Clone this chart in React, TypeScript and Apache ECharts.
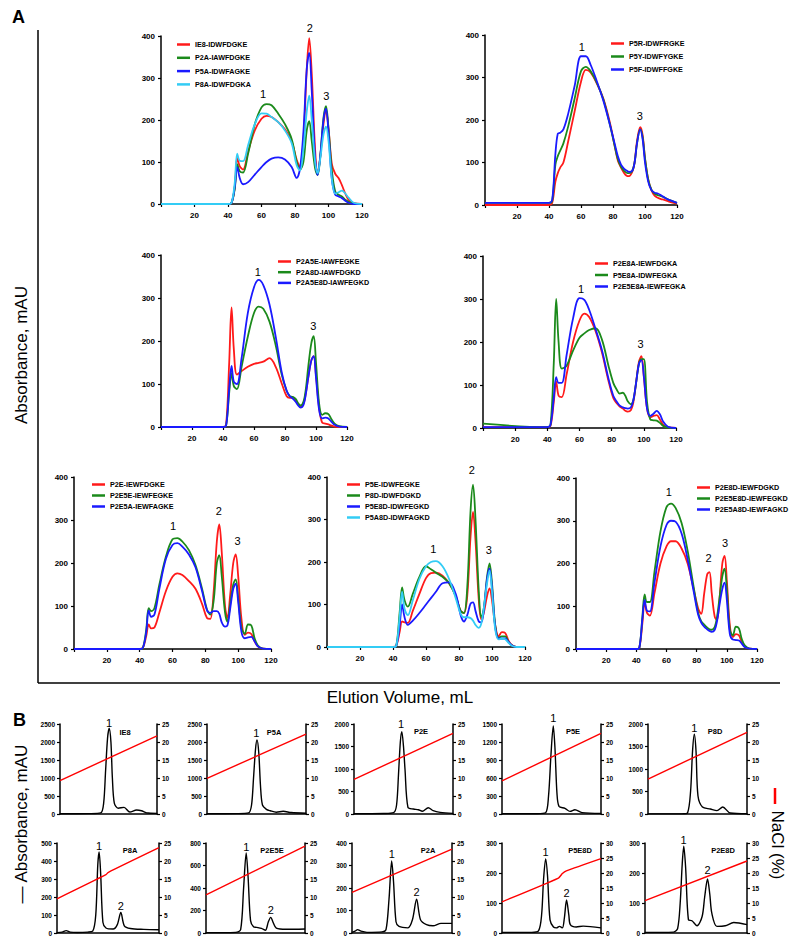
import React, { useEffect, useRef } from "react";
import * as echarts from "echarts";

const FONT = "'Liberation Sans', Arial, Helvetica, sans-serif";
const RED = "#ff1a1a";
const GREEN = "#1b8a1b";
const BLUE = "#1a1aff";
const CYAN = "#33ccf5";

// ---------- Panel A: elution volume (mL), shared sampling grid ----------
const volA = [0, 40, 42, 44, 45.5, 47, 49, 52, 56, 60, 63, 66, 70, 74, 78, 81, 83, 85, 87, 88.5, 90, 92, 93.5, 95, 97, 98.5, 100, 102, 104, 106, 108, 110, 112, 115, 120];

// A1
const ie8 = [0,0,2,40,110,90,82,125,175,203,210,207,195,178,150,105,88,150,320,395,310,130,73,110,190,221,180,95,72,62,45,25,10,2,0];
const p2a = [0,0,2,35,95,78,75,120,190,230,238,235,215,190,155,100,82,100,175,197,150,85,69,110,205,233,180,80,30,22,18,10,5,1,0];
const p5a = [0,0,2,40,88,62,47,52,70,88,100,108,111,106,88,62,85,170,320,360,270,110,69,110,200,227,170,60,22,18,14,8,3,0,0];
const p8a = [0,0,2,50,120,103,102,140,190,216,215,207,195,175,145,92,80,130,220,258,200,100,73,105,165,184,150,60,25,28,32,25,15,3,0];
// A2
const p5r = [0,0,5,55,75,88,100,150,220,290,318,312,285,250,195,140,105,88,75,69,68,78,100,150,183,165,110,60,35,22,17,14,12,8,3];
const p5y = [5,5,10,95,115,128,145,185,250,315,325,315,287,248,190,140,108,90,80,76,75,80,100,145,178,160,110,60,36,27,23,21,18,12,5];
const p5f = [5,5,12,120,168,170,178,215,280,350,350,330,290,245,190,145,115,95,85,81,78,80,100,145,178,155,100,55,35,29,27,23,18,12,5];
// A3
const p2a5e = [0,0,5,150,278,180,122,130,140,147,149,152,160,140,100,72,68,68,60,53,48,55,80,115,155,165,120,45,10,8,6,3,1,0,0];
const p2a8d = [0,0,3,80,125,95,88,140,210,265,280,275,245,190,120,85,72,70,65,55,50,60,90,140,195,211,150,55,28,32,30,18,8,2,0];
const p2a5e8d = [0,0,3,90,142,105,100,160,265,325,342,330,285,210,125,85,72,66,58,50,45,52,78,115,155,165,115,40,20,22,20,12,5,1,0];
// A4
const p2e8a = [2,2,5,60,108,75,72,125,200,250,266,258,225,175,110,70,58,50,45,40,38,42,60,100,155,167,120,45,25,28,30,20,8,2,0];
const p5e8a = [10,2,8,150,300,200,138,145,180,210,220,228,232,205,145,105,90,80,82,75,62,55,65,100,150,160,160,60,20,18,17,12,5,1,0];
const p2e5e8a = [2,2,8,70,118,105,105,170,255,302,298,275,230,180,115,75,62,52,48,46,45,48,65,100,150,158,120,45,28,33,40,32,15,3,0];
// A5
const p2e = [0,0,3,30,57,48,50,85,135,168,176,172,158,140,105,72,70,130,250,290,225,100,72,120,200,220,170,70,33,38,35,18,6,1,0];
const p2e5e = [0,0,3,45,95,88,95,150,215,255,258,250,230,195,140,92,80,110,200,218,170,85,63,100,150,162,120,50,35,57,55,25,8,1,0];
const p2e5a = [0,0,3,40,90,75,80,140,210,242,246,238,220,190,135,90,84,88,88,82,62,52,55,90,140,152,110,40,25,27,28,18,6,1,0];
// A6
const p5e = [0,0,3,35,60,58,57,85,125,162,174,175,168,150,120,85,80,120,260,318,250,110,65,80,120,138,110,50,25,35,33,15,5,0,0];
const p8d = [0,0,3,80,140,110,95,125,165,190,183,175,165,150,120,85,80,140,320,382,300,130,70,90,165,197,150,50,22,25,25,12,4,0,0];
const p5e8d = [0,0,3,50,100,70,52,62,80,100,115,130,150,152,125,75,60,75,102,105,85,60,58,85,160,185,140,45,20,20,20,12,4,0,0];
const p5a8d = [0,0,3,70,130,90,75,110,160,190,200,202,190,160,115,78,70,70,68,62,52,45,55,90,150,180,130,40,18,20,18,10,3,0,0];
// A7
const p2e8d = [0,0,3,60,110,85,78,130,200,240,252,252,235,200,140,95,82,130,175,180,130,75,68,110,200,218,160,55,28,35,32,15,5,1,0];
const p2e5e8d = [0,0,3,75,128,110,110,180,275,332,340,330,295,230,145,85,65,57,50,46,45,52,75,115,170,188,140,45,32,52,48,22,8,1,0];
const p2e5a8d = [0,0,3,70,115,90,88,155,240,290,300,298,270,210,135,80,62,52,46,42,40,45,65,100,140,155,115,35,22,21,20,12,4,1,0];

// peak labels [volume, mAU, text]
const peaksA1 = [[61, 262, "1"], [88.8, 418, "2"], [98.7, 257, "3"]];
const peaksA2 = [[60.5, 372, "1"], [96.8, 210, "3"]];
const peaksA3 = [[62.5, 360, "1"], [98.3, 235, "3"]];
const peaksA4 = [[61, 324, "1"], [97.9, 195, "3"]];
const peaksA5 = [[60.4, 286, "1"], [88.2, 321, "2"], [99.7, 251, "3"]];
const peaksA6 = [[64.4, 230, "1"], [87.7, 416, "2"], [98, 228, "3"]];
const peaksA7 = [[61.5, 368, "1"], [87.9, 212, "2"], [98.9, 248, "3"]];

const panelsA = [
  { lines: [["IE8-IDWFDGKE", ie8, RED], ["P2A-IAWFDGKE", p2a, GREEN], ["P5A-IDWFAGKE", p5a, BLUE], ["P8A-IDWFDGKA", p8a, CYAN]], peaks: peaksA1 },
  { lines: [["P5R-IDWFRGKE", p5r, RED], ["P5Y-IDWFYGKE", p5y, GREEN], ["P5F-IDWFFGKE", p5f, BLUE]], peaks: peaksA2 },
  { lines: [["P2A5E-IAWFEGKE", p2a5e, RED], ["P2A8D-IAWFDGKD", p2a8d, GREEN], ["P2A5E8D-IAWFEGKD", p2a5e8d, BLUE]], peaks: peaksA3 },
  { lines: [["P2E8A-IEWFDGKA", p2e8a, RED], ["P5E8A-IDWFEGKA", p5e8a, GREEN], ["P2E5E8A-IEWFEGKA", p2e5e8a, BLUE]], peaks: peaksA4 },
  { lines: [["P2E-IEWFDGKE", p2e, RED], ["P2E5E-IEWFEGKE", p2e5e, GREEN], ["P2E5A-IEWFAGKE", p2e5a, BLUE]], peaks: peaksA5 },
  { lines: [["P5E-IDWFEGKE", p5e, RED], ["P8D-IDWFDGKD", p8d, GREEN], ["P5E8D-IDWFEGKD", p5e8d, BLUE], ["P5A8D-IDWFAGKD", p5a8d, CYAN]], peaks: peaksA6 },
  { lines: [["P2E8D-IEWFDGKD", p2e8d, RED], ["P2E5E8D-IEWFEGKD", p2e5e8d, GREEN], ["P2E5A8D-IEWFAGKD", p2e5a8d, BLUE]], peaks: peaksA7 },
];

const layoutA = [
  { left: 161, top: 36, width: 201, height: 168, lgLeft: 177, lgTop: 40, lgGap: 4.3 },
  { left: 485, top: 35, width: 192, height: 170, lgLeft: 611, lgTop: 39, lgGap: 4 },
  { left: 161, top: 255, width: 186, height: 172, lgLeft: 278, lgTop: 257, lgGap: 1.7 },
  { left: 483, top: 256, width: 193, height: 172, lgLeft: 595, lgTop: 259, lgGap: 2.5 },
  { left: 74, top: 477, width: 197, height: 172, lgLeft: 92, lgTop: 480, lgGap: 2 },
  { left: 327, top: 477, width: 198, height: 170, lgLeft: 347, lgTop: 480, lgGap: 2 },
  { left: 576, top: 478, width: 181, height: 171, lgLeft: 697, lgTop: 483, lgGap: 2 },
];

// ---------- Panel B: ion-exchange runs (x = % of run) ----------
const namesB = ["IE8", "P5A", "P2E", "P5E", "P8D", "P8A", "P2E5E", "P2A", "P5E8D", "P2E8D"];
const absMaxB = [2500, 2500, 2000, 1500, 2000, 500, 800, 400, 300, 300];
const absStepB = [500, 500, 500, 300, 500, 100, 200, 100, 100, 100];
const naclMaxB = [25, 25, 25, 25, 25, 25, 25, 25, 30, 30];

const ie8X = [0, 30, 42, 45, 47, 49, 50.7, 52.5, 54, 56, 60, 66, 72, 79, 84, 89, 100];
const ie8Abs = [5, 10, 30, 300, 1200, 2100, 2380, 2000, 1000, 300, 160, 185, 55, 110, 90, 35, 18];
const p5aX = [0, 30, 42, 45, 47, 49, 50.5, 52.3, 54, 56, 60, 64, 70, 77, 85, 100];
const p5aAbs = [5, 10, 30, 250, 1000, 1800, 2055, 1700, 800, 250, 130, 90, 50, 75, 40, 20];
const p2eX = [0, 30, 40, 43, 45, 46.8, 48.3, 50, 51.5, 54.5, 60, 65, 69, 75, 80, 87, 100];
const p2eAbs = [5, 10, 30, 200, 900, 1600, 1830, 1500, 1000, 146, 110, 95, 60, 140, 73, 37, 15];
const p5eX = [0, 35, 44, 47, 49.5, 51.8, 53.5, 55.5, 57.6, 63.6, 68.7, 73.7, 80.8, 100];
const p5eAbs = [3, 5, 20, 300, 1000, 1467, 1100, 350, 127, 94, 44, 72, 22, 10];
const p8dX = [0, 35, 40, 43, 45, 46.8, 48.5, 50.5, 55, 63, 69.7, 75.5, 83, 100];
const p8dAbs = [3, 5, 30, 500, 1400, 1771, 1400, 400, 155, 110, 74, 155, 22, 5];
const p8aX = [0, 5, 9, 13, 20, 30, 35, 38, 40, 41.3, 42.8, 45, 48, 55, 59, 62.6, 66, 72, 85, 100];
const p8aAbs = [2, 5, 13, 5, 3, 5, 10, 100, 380, 450, 330, 60, 28, 22, 45, 114, 40, 25, 20, 18];
const p2e5eX = [0, 30, 35, 38, 40.6, 42.5, 45, 48, 51, 56, 60, 63, 65.4, 68, 71, 81, 100];
const p2e5eAbs = [3, 6, 30, 400, 711, 500, 110, 55, 50, 41, 24, 100, 139, 90, 44, 33, 36];
const p2aX = [0, 3, 5.6, 9, 15, 30, 34, 37, 39.7, 41.5, 44, 47, 56, 60.5, 64.6, 68.5, 74.5, 81, 89, 100];
const p2aAbs = [3, 8, 15, 8, 3, 5, 15, 150, 320, 230, 50, 29, 23, 60, 150, 59, 37, 32, 43, 43];
const p5e8dX = [0, 30, 37, 40, 42, 44.1, 46, 48.5, 52, 55, 58, 61, 63, 65.2, 67.5, 69, 75, 82, 100];
const p5e8dAbs = [2, 2, 8, 60, 180, 247, 190, 44, 20, 17, 22, 17, 50, 110, 60, 28, 20, 23, 17];
const p2e8dX = [0, 28, 32, 34.5, 36.5, 38, 39.8, 42.6, 46, 51, 56, 58.5, 61.3, 63.5, 65.5, 70.5, 78.7, 87, 100];
const p2e8dAbs = [2, 3, 15, 100, 230, 289, 220, 44, 41, 24, 55, 120, 180, 130, 66, 22, 24, 35, 28];

// NaCl gradient (%)
const naclLinX = [0, 100];
const ie8Nacl = [9.3, 21.7];
const p5aNacl = [9.9, 22.2];
const p2eNacl = [9.6, 22.4];
const p5eNacl = [9.2, 22.4];
const p8dNacl = [9.7, 22.7];
const p8aNaclX = [0, 48, 50, 100];
const p8aNacl = [9.5, 16.2, 16.8, 23.7];
const p2e5eNacl = [10.6, 24.1];
const p2aNacl = [11.3, 23.3];
const p5e8dNaclX = [0, 57, 61, 65, 100];
const p5e8dNacl = [10.4, 18.3, 19.8, 20.7, 24.8];
const p2e8dNacl = [10.8, 24.0];

const peaksB = [
  [[50.7, 2540, "1"]],
  [[49.8, 2260, "1"]],
  [[47.5, 2010, "1"]],
  [[51.8, 1594, "1"]],
  [[46.8, 1904, "1"]],
  [[41.3, 483, "1"], [62.6, 151, "2"]],
  [[40.6, 764, "1"], [65.4, 207, "2"]],
  [[39.7, 353, "1"], [64.6, 184, "2"]],
  [[44.1, 270, "1"], [65.2, 132, "2"]],
  [[37.7, 309, "1"], [61.3, 210, "2"]],
];

const absB = [
  [ie8X, ie8Abs], [p5aX, p5aAbs], [p2eX, p2eAbs], [p5eX, p5eAbs], [p8dX, p8dAbs],
  [p8aX, p8aAbs], [p2e5eX, p2e5eAbs], [p2aX, p2aAbs], [p5e8dX, p5e8dAbs], [p2e8dX, p2e8dAbs],
];
const naclB = [
  [naclLinX, ie8Nacl], [naclLinX, p5aNacl], [naclLinX, p2eNacl], [naclLinX, p5eNacl], [naclLinX, p8dNacl],
  [p8aNaclX, p8aNacl], [naclLinX, p2e5eNacl], [naclLinX, p2aNacl], [p5e8dNaclX, p5e8dNacl], [naclLinX, p2e8dNacl],
];

const layoutB = [
  { left: 60, top: 724, width: 97, tx: 125, ty: 732 },
  { left: 207, top: 724, width: 99, tx: 274, ty: 732 },
  { left: 354, top: 724, width: 99, tx: 421, ty: 731 },
  { left: 502, top: 724, width: 99, tx: 573, ty: 731 },
  { left: 648, top: 724, width: 99, tx: 715, ty: 731 },
  { left: 57, top: 843, width: 102, tx: 130, ty: 850 },
  { left: 206, top: 843, width: 99, tx: 272, ty: 850 },
  { left: 352, top: 843, width: 100, tx: 428, ty: 850 },
  { left: 502, top: 843, width: 99, tx: 580, ty: 850 },
  { left: 645, top: 843, width: 102, tx: 723, ty: 850 },
];
const heightB = 90;

function buildOption() {
  const grid: any[] = [];
  const xAxis: any[] = [];
  const yAxis: any[] = [];
  const series: any[] = [];
  const legend: any[] = [];
  const graphic: any[] = [];
  const peakJobs: any[] = [];

  const axLine = { show: true, lineStyle: { color: "#000", width: 1.5 } };
  const tick = (len: number) => ({ show: true, length: len, lineStyle: { color: "#000", width: 1.2 } });
  const plain = (v: number) => String(v);

  panelsA.forEach((p, i) => {
    const L = layoutA[i];
    grid.push({ left: L.left, top: L.top, width: L.width, height: L.height, outerBoundsMode: "none" });
    const gi = grid.length - 1;
    xAxis.push({
      gridIndex: gi,
      type: "value",
      min: 0,
      max: 120,
      interval: 20,
      axisLine: axLine,
      axisTick: tick(3),
      splitLine: { show: false },
      axisLabel: {
        formatter: (v: number) => (v === 0 ? "" : String(v)),
        fontSize: 8,
        fontWeight: "bold",
        fontFamily: FONT,
        color: "#000",
        margin: 7,
      },
    });
    yAxis.push({
      gridIndex: gi,
      type: "value",
      min: 0,
      max: 400,
      interval: 100,
      axisLine: axLine,
      axisTick: tick(3),
      splitLine: { show: false },
      axisLabel: { formatter: plain, fontSize: 8, fontWeight: "bold", fontFamily: FONT, color: "#000", margin: 6 },
    });
    const yi = yAxis.length - 1;
    p.lines.forEach((ln: any) => {
      const [name, ys, color] = ln;
      series.push({
        type: "line",
        name,
        xAxisIndex: gi,
        yAxisIndex: yi,
        data: volA.map((v, k) => [v, ys[k]]),
        smooth: 0.35,
        showSymbol: false,
        symbol: "none",
        color,
        lineStyle: { color, width: 1.8 },
        silent: true,
      });
    });
    peakJobs.push({ xi: gi, yi, pts: p.peaks });
    legend.push({
      show: true,
      orient: "vertical",
      left: L.lgLeft,
      top: L.lgTop,
      padding: 0,
      itemGap: L.lgGap,
      itemWidth: 13,
      itemHeight: 2.5,
      icon: "rect",
      selectedMode: false,
      data: p.lines.map((ln: any) => ln[0]),
      textStyle: { fontSize: 7.2, fontWeight: "bold", fontFamily: FONT, color: "#000", lineHeight: 9 },
    });
  });

  namesB.forEach((nm, i) => {
    const L = layoutB[i];
    grid.push({ left: L.left, top: L.top, width: L.width, height: heightB, outerBoundsMode: "none" });
    const gi = grid.length - 1;
    xAxis.push({
      gridIndex: gi,
      type: "value",
      min: 0,
      max: 100,
      axisLine: axLine,
      axisTick: { show: false },
      axisLabel: { show: false },
      splitLine: { show: false },
    });
    const bLabel = { formatter: plain, fontSize: 6.5, fontWeight: "bold", fontFamily: FONT, color: "#000", margin: 5 };
    yAxis.push({
      gridIndex: gi,
      type: "value",
      position: "left",
      min: 0,
      max: absMaxB[i],
      interval: absStepB[i],
      axisLine: axLine,
      axisTick: tick(3),
      splitLine: { show: false },
      axisLabel: bLabel,
    });
    const yl = yAxis.length - 1;
    yAxis.push({
      gridIndex: gi,
      type: "value",
      position: "right",
      min: 0,
      max: naclMaxB[i],
      interval: 5,
      axisLine: axLine,
      axisTick: tick(3),
      splitLine: { show: false },
      axisLabel: bLabel,
    });
    const yr = yAxis.length - 1;
    const [ax, ay] = absB[i];
    series.push({
      type: "line",
      xAxisIndex: gi,
      yAxisIndex: yl,
      data: ax.map((v: number, k: number) => [v, ay[k]]),
      smooth: 0.3,
      showSymbol: false,
      symbol: "none",
      lineStyle: { color: "#000", width: 1.4 },
      silent: true,
    });
    const [nx, ny] = naclB[i];
    series.push({
      type: "line",
      xAxisIndex: gi,
      yAxisIndex: yr,
      data: nx.map((v: number, k: number) => [v, ny[k]]),
      smooth: 0.2,
      showSymbol: false,
      symbol: "none",
      lineStyle: { color: "#ff0000", width: 1.4 },
      silent: true,
    });
    peakJobs.push({ xi: gi, yi: yl, pts: peaksB[i] });
    graphic.push({
      type: "text",
      x: L.tx,
      y: L.ty,
      style: {
        text: nm,
        font: `bold 7.5px ${FONT}`,
        fill: "#000",
        textAlign: "center",
        textVerticalAlign: "middle",
      },
    });
  });

  // Figure decorations
  graphic.push(
    { type: "text", x: 12, y: 8, style: { text: "A", font: `bold 18px ${FONT}`, fill: "#000" } },
    { type: "text", x: 13, y: 711, style: { text: "B", font: `bold 18px ${FONT}`, fill: "#000" } },
    { type: "line", shape: { x1: 38, y1: 30, x2: 38, y2: 683 }, style: { stroke: "#000", lineWidth: 1.5 } },
    { type: "line", shape: { x1: 38, y1: 683, x2: 780, y2: 683 }, style: { stroke: "#000", lineWidth: 1.5 } },
    {
      type: "text",
      x: 21,
      y: 355,
      rotation: Math.PI / 2,
      style: { text: "Absorbance, mAU", font: `17px ${FONT}`, fill: "#000", textAlign: "center", textVerticalAlign: "middle" },
    },
    {
      type: "text",
      x: 400,
      y: 697,
      style: { text: "Elution Volume, mL", font: `17px ${FONT}`, fill: "#000", textAlign: "center", textVerticalAlign: "middle" },
    },
    {
      type: "text",
      x: 21,
      y: 824,
      rotation: Math.PI / 2,
      style: { text: "— Absorbance, mAU", font: `17px ${FONT}`, fill: "#000", textAlign: "center", textVerticalAlign: "middle" },
    },
    { type: "line", shape: { x1: 775, y1: 788, x2: 775, y2: 804 }, style: { stroke: "#ff0000", lineWidth: 2.5 } },
    {
      type: "text",
      x: 777,
      y: 845,
      rotation: -Math.PI / 2,
      style: { text: "NaCl (%)", font: `17px ${FONT}`, fill: "#000", textAlign: "center", textVerticalAlign: "middle" },
    }
  );

  return {
    option: {
      animation: false,
      backgroundColor: "#ffffff",
      grid,
      xAxis,
      yAxis,
      series,
      legend,
      tooltip: { show: false },
    },
    graphic,
    peakJobs,
  };
}

export default function App() {
  const ref = useRef<HTMLDivElement>(null);
  useEffect(() => {
    if (!ref.current) return;
    const chart = echarts.init(ref.current, null, { renderer: "svg" });
    const { option, graphic, peakJobs } = buildOption();
    chart.setOption(option as any);
    // peak numbers placed through the axes' own scales
    const peakTexts: any[] = [];
    peakJobs.forEach((job: any) => {
      job.pts.forEach((p: any) => {
        const px = chart.convertToPixel({ xAxisIndex: job.xi, yAxisIndex: job.yi } as any, [p[0], p[1]]) as any;
        if (!px) return;
        peakTexts.push({
          type: "text",
          x: px[0],
          y: px[1],
          style: {
            text: p[2],
            font: `11px ${FONT}`,
            fill: "#000",
            textAlign: "center",
            textVerticalAlign: "middle",
          },
        });
      });
    });
    chart.setOption({ graphic: [...graphic, ...peakTexts] } as any);
    return () => chart.dispose();
  }, []);
  return (
    <div
      ref={ref}
      style={{ position: "absolute", left: 0, top: 0, width: 800, height: 946, background: "#fff" }}
    />
  );
}
